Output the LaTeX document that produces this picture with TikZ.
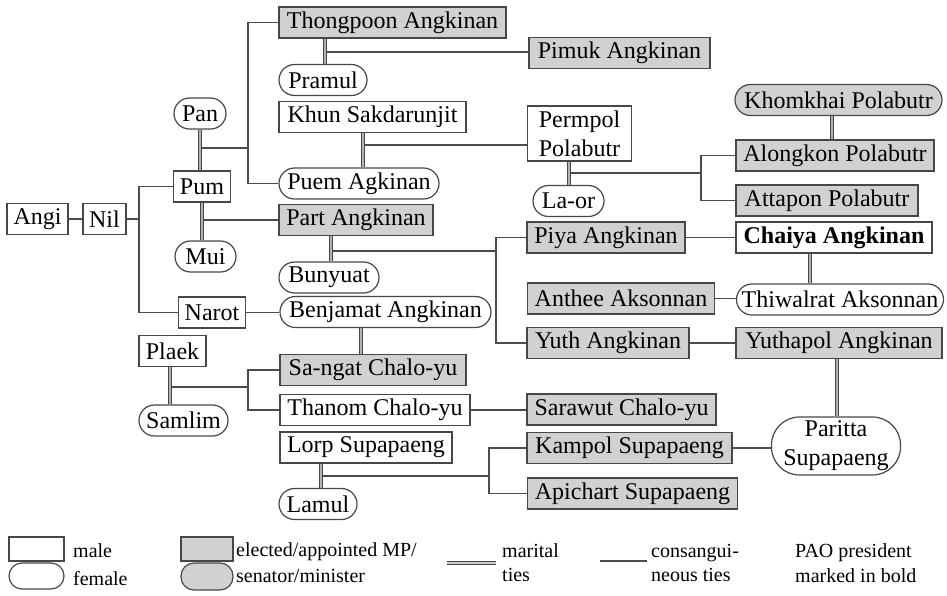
\documentclass[tikz,border=0pt]{standalone}
\usepackage{fontspec}
\setmainfont{Liberation Serif}
\begin{document}
\begin{tikzpicture}[x=1pt,y=-1pt,
  person/.style={draw=black!72, line width=1.2pt, fill=white, inner sep=0pt, minimum height=31pt, align=center, font=\fontsize{24}{29}\selectfont},
  male/.style={person, rectangle},
  female/.style={person, rectangle, rounded corners=15.5pt},
  mp/.style={fill=black!18},
  cons/.style={draw=black!70, line width=1.3pt},
  marital/.style={draw=black!72, line width=1.1pt, double=black!30, double distance=1.3pt},
  legtext/.style={anchor=base west, inner sep=0pt, font=\fontsize{20}{24}\selectfont}]
\useasboundingbox (0,0) rectangle (947,595);

% ---------- people ----------
\node[male, minimum width=61pt] (angi) at (37.5,219) {Angi};
\node[male, minimum width=43pt] (nil) at (104.5,219) {Nil};
\node[female, minimum width=52pt] (pan) at (200,113.5) {Pan};
\node[male, minimum width=57pt] (pum) at (202,186.5) {Pum};
\node[female, minimum width=61pt] (mui) at (205.5,256.5) {Mui};
\node[male, mp, minimum width=227pt] (thong) at (392.5,22.5) {Thongpoon Angkinan};
\node[female, minimum width=88pt] (pramul) at (323,80) {Pramul};
\node[male, mp, minimum width=181pt] (pimuk) at (619.5,53) {Pimuk Angkinan};
\node[male, minimum width=187pt] (khun) at (372.5,117) {Khun Sakdarunjit};
\node[female, minimum width=160pt] (puem) at (359,183.5) {Puem Agkinan};
\node[male, minimum width=104pt, minimum height=55pt] (permpol) at (579.5,133.5) {Permpol\\Polabutr};
\node[female, minimum width=71pt] (laor) at (568.5,201) {La-or};
\node[female, mp, minimum width=207pt] (khomkhai) at (838.5,100) {Khomkhai Polabutr};
\node[male, mp, minimum width=198pt] (alongkon) at (835,155.5) {Alongkon Polabutr};
\node[male, mp, minimum width=182pt] (attapon) at (827,200.5) {Attapon Polabutr};
\node[male, mp, minimum width=154pt] (part) at (356,220) {Part Angkinan};
\node[female, minimum width=100pt] (bunyuat) at (329,277.5) {Bunyuat};
\node[male, mp, minimum width=158pt] (piya) at (606,237.5) {Piya Angkinan};
\node[male, minimum width=196pt, font=\fontsize{24}{29}\selectfont\bfseries] (chaiya) at (834,237.5) {Chaiya Angkinan};
\node[male, mp, minimum width=187pt] (anthee) at (621,298.5) {Anthee Aksonnan};
\node[female, minimum width=207pt] (thiwal) at (840,299.5) {Thiwalrat Aksonnan};
\node[male, mp, minimum width=162pt] (yuth) at (608,343) {Yuth Angkinan};
\node[male, mp, minimum width=206pt] (yuthapol) at (839,343) {Yuthapol Angkinan};
\node[female, rounded corners=28pt, minimum width=129pt, minimum height=58pt] (paritta) at (836,446) {Paritta\\Supapaeng};
\node[male, minimum width=67pt] (narot) at (212,312.5) {Narot};
\node[female, minimum width=211pt] (benjamat) at (385.5,312) {Benjamat Angkinan};
\node[male, minimum width=67pt] (plaek) at (172.5,351) {Plaek};
\node[female, minimum width=89pt] (samlim) at (183.5,420.5) {Samlim};
\node[male, mp, minimum width=186pt] (sangat) at (373,370) {Sa-ngat Chalo-yu};
\node[male, minimum width=190pt] (thanom) at (375,410) {Thanom Chalo-yu};
\node[male, mp, minimum width=189pt] (sarawut) at (621.5,409.5) {Sarawut Chalo-yu};
\node[male, minimum width=172pt] (lorp) at (366,447.5) {Lorp Supapaeng};
\node[female, minimum width=78pt] (lamul) at (318,504) {Lamul};
\node[male, mp, minimum width=205pt] (kampol) at (629.5,448) {Kampol Supapaeng};
\node[male, mp, minimum width=210pt] (apichart) at (632.5,493.5) {Apichart Supapaeng};

% ---------- junction coordinates ----------
\coordinate (nb) at (139,219);
\coordinate (mpan) at (200,148);
\coordinate (bpan) at (248,148);
\coordinate (mpum) at (202,220);
\coordinate (mthong) at (325,52);
\coordinate (mkhun) at (363,145);
\coordinate (mperm) at (569,173);
\coordinate (bperm) at (701,173);
\coordinate (mkhom) at (832,128);
\coordinate (mpart) at (331,251);
\coordinate (bpart) at (496,251);
\coordinate (mchai) at (810,268);
\coordinate (myuth) at (837,388);
\coordinate (mbenj) at (361,341);
\coordinate (mplaek) at (170,387);
\coordinate (bplaek) at (248,387);
\coordinate (mlorp) at (321,476);
\coordinate (blorp) at (489,476);

% ---------- consanguineous ties ----------
\draw[cons] (angi) -- (nil);
\draw[cons] (nil.east) -- (nb);
\draw[cons] (nb) |- (pum.west);
\draw[cons] (nb) |- (narot.west);
\draw[cons] (mpan) -- (bpan);
\draw[cons] (bpan) |- (thong.west);
\draw[cons] (bpan) |- (puem.west);
\draw[cons] (mpum) -- (part.west);
\draw[cons] (mthong) -- (mthong -| pimuk.west);
\draw[cons] (mkhun) -- (mkhun -| permpol.west);
\draw[cons] (mperm) -- (bperm);
\draw[cons] (bperm) |- (alongkon.west);
\draw[cons] (bperm) |- (attapon.west);
\draw[cons] (mpart) -- (bpart);
\draw[cons] (bpart) |- (piya.west);
\draw[cons] (bpart) |- (yuth.west);
\draw[cons] (piya) -- (chaiya);
\draw[cons] (anthee.east) -- (anthee.east -| thiwal.west);
\draw[cons] (yuth) -- (yuthapol);
\draw[cons] (narot.east) -- (narot.east -| benjamat.west);
\draw[cons] (mplaek) -- (bplaek);
\draw[cons] (bplaek) |- (sangat.west);
\draw[cons] (bplaek) |- (thanom.west);
\draw[cons] (thanom.east) -- (thanom.east -| sarawut.west);
\draw[cons] (mlorp) -- (blorp);
\draw[cons] (blorp) |- (kampol.west);
\draw[cons] (blorp) |- (apichart.west);
\draw[cons] (kampol.east) -- (kampol.east -| paritta.west);

% ---------- marital ties ----------
\draw[marital] (mpan |- pan.south) -- (mpan |- pum.north);
\draw[marital] (mpum |- pum.south) -- (mpum |- mui.north);
\draw[marital] (mthong |- thong.south) -- (mthong |- pramul.north);
\draw[marital] (mkhun |- khun.south) -- (mkhun |- puem.north);
\draw[marital] (mperm |- permpol.south) -- (mperm |- laor.north);
\draw[marital] (mkhom |- khomkhai.south) -- (mkhom |- alongkon.north);
\draw[marital] (mpart |- part.south) -- (mpart |- bunyuat.north);
\draw[marital] (mchai |- chaiya.south) -- (mchai |- thiwal.north);
\draw[marital] (myuth |- yuthapol.south) -- (myuth |- paritta.north);
\draw[marital] (mbenj |- benjamat.south) -- (mbenj |- sangat.north);
\draw[marital] (mplaek |- plaek.south) -- (mplaek |- samlim.north);
\draw[marital] (mlorp |- lorp.south) -- (mlorp |- lamul.north);

% ---------- legend ----------
\node[male, minimum width=55pt, minimum height=24pt] (lgmale) at (36.5,549) {};
\node[female, rounded corners=13pt, minimum width=55pt, minimum height=26pt] (lgfemale) at (36.5,576) {};
\node[male, mp, minimum width=52pt, minimum height=24pt] (lgmp) at (207,549) {};
\node[female, mp, rounded corners=13pt, minimum width=52pt, minimum height=27pt] (lgmpf) at (207,576.5) {};
\node[legtext] (tmale) at (73,557) {male};
\node[legtext] (tfemale) at (73,585) {female};
\node[legtext] (tmp1) at (236,556) {elected/appointed MP/};
\node[legtext] (tmp2) at (236,582) {senator/minister};
\coordinate (lma) at (447,563);
\coordinate (lmb) at (496,563);
\draw[marital, double=black!20] (lma) -- (lmb);
\node[legtext] (tmar1) at (502,557) {marital};
\node[legtext] (tmar2) at (502,581) {ties};
\coordinate (lca) at (600,561);
\coordinate (lcb) at (647,561);
\draw[cons] (lca) -- (lcb);
\node[legtext] (tcon1) at (651,557) {consangui-};
\node[legtext] (tcon2) at (651,581) {neous ties};
\node[legtext] (tpao1) at (795,557) {PAO president};
\node[legtext] (tpao2) at (795,582) {marked in bold};
\end{tikzpicture}
\end{document}
